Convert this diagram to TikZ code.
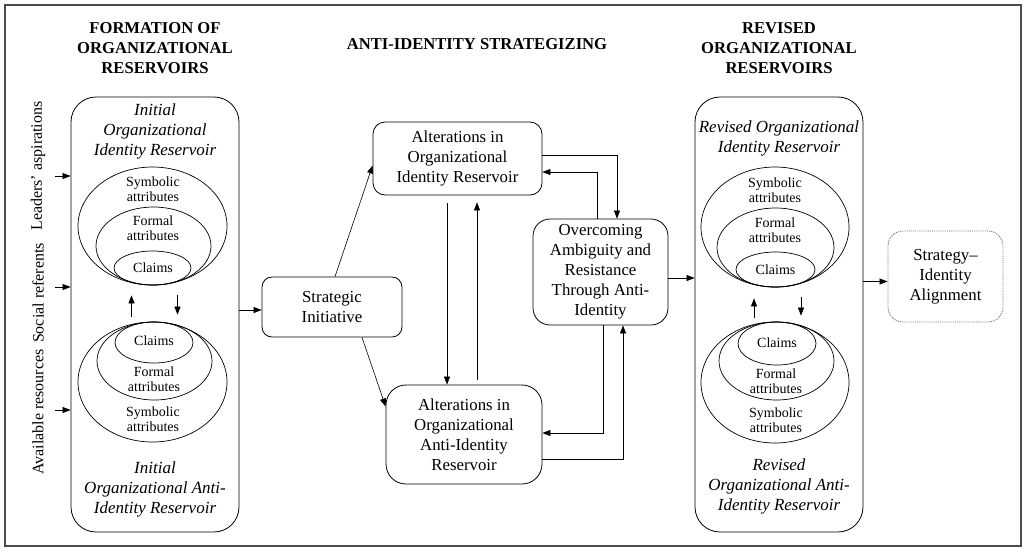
\documentclass[tikz,border=0pt]{standalone}
\usepackage{fontspec}
\setmainfont{Liberation Serif}
\usepackage{xcolor}
\usetikzlibrary{arrows.meta, positioning, calc, shapes.geometric}
\definecolor{framegray}{HTML}{4A4A4A}
\definecolor{dotgray}{HTML}{6E6E6E}
\tikzset{
  resv/.style ={rectangle, rounded corners=25pt, draw=black, line width=0.8pt, inner sep=0pt},
  proc/.style ={rectangle, rounded corners=12pt, draw=black, line width=0.8pt,
                align=center, inner sep=0pt, font=\fontsize{16.8}{20}\selectfont},
  goal/.style ={rectangle, rounded corners=15pt, draw=dotgray, densely dotted, line width=0.9pt,
                align=center, inner sep=0pt, font=\fontsize{16.8}{20}\selectfont},
  ring/.style ={ellipse, draw=black, line width=0.7pt, inner sep=0pt},
  itxt/.style ={align=center, font=\fontsize{17}{20}\selectfont\itshape},
  small/.style={align=center, font=\fontsize{14}{15}\selectfont},
  head/.style ={align=center, font=\fontsize{16.6}{20}\selectfont\bfseries},
  side/.style ={rotate=90, font=\fontsize{16}{20}\selectfont},
  flow/.style ={-{Triangle[length=8pt,width=6pt]}, draw=black, line width=0.6pt},
}

\begin{document}
\begin{tikzpicture}[x=1pt, y=-1pt]
  \useasboundingbox (0,0) rectangle (1027,550);
  \draw[framegray, line width=1.5pt] (5,5) rectangle (1021,546);

  \node[head] (hform) at (155,48)  {FORMATION OF\\ORGANIZATIONAL\\RESERVOIRS};
  \node[head] (hanti) at (477,44)  {ANTI-IDENTITY STRATEGIZING};
  \node[head] (hrev)  at (779,48)  {REVISED\\ORGANIZATIONAL\\RESERVOIRS};

  \node[side] (sasp) at (38,166) {Leaders' aspirations};
  \node[side] (sref) at (38,293) {Social referents};
  \node[side] (sres) at (38,412) {Available resources};

  \node[resv, minimum width=168pt, minimum height=435pt] (initbox) at (155,314.5) {};
  \node[itxt] (tinitid)   at (155,131.5) {Initial\\Organizational\\Identity Reservoir};
  \node[itxt] (tinitanti) at (155,489)   {Initial\\Organizational Anti-\\Identity Reservoir};
  \node[ring, minimum width=149pt, minimum height=118pt] (lid)    at (152.5,226) {};
  \node[ring, minimum width=115pt, minimum height=78pt]  (lidf)   at (153.5,246) {};
  \node[ring, minimum width=77pt,  minimum height=34pt]  (lidc)   at (152.5,268) {};
  \node[ring, minimum width=149pt, minimum height=120pt] (lanti)  at (152.5,382) {};
  \node[ring, minimum width=115pt, minimum height=78pt]  (lantif) at (154.5,361) {};
  \node[ring, minimum width=78pt,  minimum height=41pt]  (lantic) at (154,342.5) {};
  \node[small] (tlids) at (153,189.5) {Symbolic\\attributes};
  \node[small] (tlidf) at (153,228.5) {Formal\\attributes};
  \node[small] (tlidc) at (153,268)   {Claims};
  \node[small] (tlac)  at (154,341)   {Claims};
  \node[small] (tlaf)  at (154,379.5) {Formal\\attributes};
  \node[small] (tlas)  at (153,419.5) {Symbolic\\attributes};

  \node[proc, rounded corners=10pt, minimum width=140pt, minimum height=60pt] (strat) at (332,307) {Strategic\\Initiative};
  \node[proc, minimum width=169pt, minimum height=73pt]  (altid)   at (457.5,158.5) {Alterations in\\Organizational\\Identity Reservoir};
  \node[proc, rounded corners=20pt, minimum width=156pt, minimum height=99pt] (altanti) at (464,434.5) {Alterations in\\Organizational\\Anti-Identity\\Reservoir};
  \node[proc, rounded corners=17pt, minimum width=135pt, minimum height=106pt] (ovc) at (600.5,272) {Overcoming\\Ambiguity and\\Resistance\\Through Anti-\\Identity};

  \node[resv, minimum width=168pt, minimum height=435pt] (revbox) at (779,314.5) {};
  \node[itxt] (trevid)   at (779,138)   {Revised Organizational\\Identity Reservoir};
  \node[itxt] (trevanti) at (779,486.5) {Revised\\Organizational Anti-\\Identity Reservoir};
  \node[ring, minimum width=148pt, minimum height=120pt] (rid)    at (775,227) {};
  \node[ring, minimum width=117pt, minimum height=79pt]  (ridf)   at (775.5,247.5) {};
  \node[ring, minimum width=79pt,  minimum height=35pt]  (ridc)   at (775.5,269.5) {};
  \node[ring, minimum width=148pt, minimum height=121pt] (ranti)  at (775,382.5) {};
  \node[ring, minimum width=115pt, minimum height=78pt]  (rantif) at (776.5,361) {};
  \node[ring, minimum width=78pt,  minimum height=43pt]  (rantic) at (777,343.5) {};
  \node[small] (trids) at (775,190)   {Symbolic\\attributes};
  \node[small] (tridf) at (775,230)   {Formal\\attributes};
  \node[small] (tridc) at (775.5,270) {Claims};
  \node[small] (trac)  at (777,343)   {Claims};
  \node[small] (traf)  at (776,381.5) {Formal\\attributes};
  \node[small] (tras)  at (776,420.5) {Symbolic\\attributes};

  \node[goal, minimum width=115pt, minimum height=91pt] (align) at (945.5,276.5) {Strategy--\\Identity\\Alignment};

  \coordinate (inasp) at (55,176);
  \coordinate (inref) at (55,287);
  \coordinate (inres) at (55,410);
  \coordinate (dn)    at (447,203);
  \coordinate (up)    at (477,380);
  \coordinate (o2r)   at ($(ovc.east)+(0,6)$);
  \coordinate (r2a)   at ($(align.west)+(0,5)$);

  \draw[flow] (inasp) -- (inasp -| initbox.west);
  \draw[flow] (inref) -- (inref -| initbox.west);
  \draw[flow] (inres) -- (inres -| initbox.west);
  \draw[flow] ([xshift=-21pt,yshift=5pt]lanti.north) -- ([xshift=-21pt,yshift=-10pt]lid.south);
  \draw[flow] ([xshift=25pt,yshift=-10pt]lid.south) -- ([xshift=25pt,yshift=7pt]lanti.north);
  \draw[flow] (initbox.east |- 0,310) -- (strat.west |- 0,310);
  \draw[flow] ([xshift=3pt]strat.north) -- ([yshift=-7pt]altid.west);
  \draw[flow] ([xshift=30pt]strat.south) -- ([yshift=28pt]altanti.west);
  \draw[flow] (dn) -- (dn |- altanti.north);
  \draw[flow] (up) -- ($(up |- altid.south)+(0,7)$);
  \draw[flow] ([yshift=3.5pt]altid.east) -| ([xshift=16.5pt]ovc.north);
  \draw[flow] ([xshift=-3.5pt]ovc.north) |- ([yshift=-13.5pt]altid.east);
  \draw[flow] ([xshift=2.5pt]ovc.south) |- ([yshift=1.5pt]altanti.east);
  \draw[flow] ([yshift=-24.5pt]altanti.east) -| ([xshift=22.5pt]ovc.south);
  \draw[flow] (o2r) -- (o2r -| revbox.west);
  \draw[flow] ([xshift=-21pt,yshift=4pt]ranti.north) -- ([xshift=-21pt,yshift=-11pt]rid.south);
  \draw[flow] ([xshift=26pt,yshift=-10pt]rid.south) -- ([xshift=26pt,yshift=6pt]ranti.north);
  \draw[flow] (r2a -| revbox.east) -- (r2a);
\end{tikzpicture}
\end{document}
